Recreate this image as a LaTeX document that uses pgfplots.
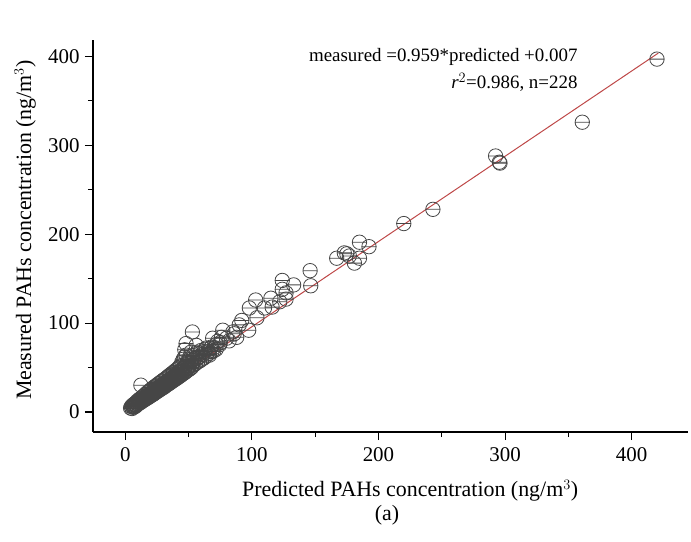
\documentclass[border=0pt]{standalone}
\usepackage{pgfplots}
\pgfplotsset{compat=1.18}
\usepackage{fontspec}
\setmainfont{Liberation Serif}
\definecolor{mk}{RGB}{70,70,70}
\definecolor{fit}{RGB}{190,72,72}
\pgfdeclareplotmark{ominus}{%
  \pgfpathcircle{\pgfpoint{0pt}{0pt}}{\pgfplotmarksize}%
  \pgfpathmoveto{\pgfpoint{-\pgfplotmarksize}{0pt}}%
  \pgfpathlineto{\pgfpoint{\pgfplotmarksize}{0pt}}%
  \pgfusepathqstroke}
\begin{document}
\begin{tikzpicture}
\useasboundingbox (-93bp,-110bp) rectangle (598bp,432bp);
\begin{axis}[
  at={(0,0)}, anchor=south west,
  scale only axis, width=595bp, height=392bp,
  xmin=-25.5, xmax=444.5, ymin=-22.5, ymax=418.5,
  axis x line=bottom, axis y line=left,
  axis line style={-, line width=1.1bp},
  xtick={0,100,200,300,400}, ytick={0,100,200,300,400},
  minor tick num=1,
  tick align=outside,
  major tick length=8bp, minor tick length=5bp,
  tick style={line width=1.1bp, black},
  /pgf/number format/assume math mode=true,
  ticklabel style={font=\fontsize{21}{24}\selectfont},
  xticklabel style={yshift=-4bp},
  yticklabel style={xshift=-2bp},
  xlabel={Predicted PAHs concentration (ng/m$^3$)},
  ylabel={Measured PAHs concentration (ng/m$^3$)},
  label style={font=\fontsize{22}{26}\selectfont},
  xlabel style={at={(axis description cs:0.533,-0.15)}, anchor=center},
  ylabel style={at={(axis description cs:-0.114,0.515)}, anchor=center, rotate=0},
  clip=false,
]
\addplot[only marks, mark=ominus, mark size=7.2bp, mark options={draw=mk, line width=0.8bp, fill=none}] coordinates {
(420,397) (361,326) (292.5,288) (295.5,281) (296,280) (243,228) (220,212)
(185,191) (192.5,186) (173,179) (167,173) (177,175.5) (185,173) (181,167.5) (175,178)
(146,159) (146.5,142) (124,148) (133,143) (124,138) (127,134) (127,127) (122,124)
(115,128) (116,118) (110,117) (103,126) (98,117) (104,106) (92,103) (90,98)
(97.5,92) (85,90) (77,92) (76,84) (69,83) (80,83) (88,84) (53,90) (48,77) (56,75)
(68,73) (64,72) (47,70) (59,66) (66.5,64) (72,76) (75,78) (62,68) (58,62) (82,80)
(86,88) (70,69)
(4.2,4.5) (4.8,6.1) (5.3,3.9) (5.6,7.2) (6.1,5.4) (6.4,8.3) (6.9,6.2) (7.2,9.1)
(7.5,5.8) (7.9,8.0) (8.3,10.4) (8.6,7.1) (9.0,9.6) (9.4,12.1) (9.8,8.7) (10.1,11.0)
(10.5,13.4) (10.9,9.8) (11.2,12.3) (11.6,14.8) (12.0,10.6) (12.3,30.2) (12.4,13.1)
(12.8,15.9) (13.1,11.9) (13.5,14.2) (13.9,17.3) (14.2,12.8) (14.6,15.6) (15.0,18.7)
(15.3,13.9) (15.7,16.4) (16.1,20.1) (16.4,14.8) (16.8,17.5) (17.2,21.6) (17.5,15.9)
(17.9,18.8) (18.3,23.0) (18.6,16.7) (19.0,19.9) (19.4,24.1) (19.7,17.8) (20.1,21.0)
(20.5,25.3) (20.8,18.9) (21.2,22.4) (21.6,26.8) (21.9,19.7) (22.3,23.1) (22.7,27.9)
(23.0,20.8) (23.4,24.6) (23.8,29.2) (24.1,22.0) (24.5,25.9) (24.9,30.1) (25.2,23.1)
(25.6,26.8) (26.0,31.5) (26.3,24.0) (26.7,28.1) (27.1,32.6) (27.4,25.2) (27.8,29.3)
(28.2,33.8) (28.5,26.1) (28.9,30.2) (29.3,35.0) (29.6,27.3) (30.0,31.4) (30.4,36.2)
(30.7,28.0) (31.1,32.6) (31.5,37.1) (31.8,29.4) (32.2,33.7) (32.6,38.5) (32.9,30.6)
(33.3,34.4) (33.7,39.8) (34.0,31.5) (34.4,35.9) (34.8,41.0) (35.1,32.4) (35.5,37.0)
(35.9,42.3) (36.2,33.8) (36.6,38.1) (37.0,43.5) (37.3,34.7) (37.7,39.2) (38.1,44.6)
(38.4,35.8) (38.8,40.5) (39.2,46.1) (39.5,36.9) (39.9,41.7) (40.3,47.2) (40.6,37.8)
(41.0,42.9) (41.4,48.6) (41.7,39.0) (42.1,44.0) (42.5,50.3) (42.8,40.1) (43.2,45.3)
(43.6,52.0) (43.9,41.2) (44.3,47.0) (44.7,56.1) (45.0,42.4) (45.4,48.5) (45.8,59.3)
(46.1,43.6) (46.5,50.1) (46.9,61.8) (47.2,44.5) (47.6,52.7) (48.0,64.0) (48.3,45.9)
(48.7,54.2) (49.1,49.0) (49.4,56.8) (49.8,47.3) (50.2,58.9) (50.5,51.0) (50.9,62.1)
(51.3,48.8) (51.6,55.0) (52.0,67.5) (52.4,50.2) (52.7,58.1) (53.1,52.6) (53.5,63.4)
(54.2,53.0) (55.0,60.2) (55.7,54.6) (56.4,66.0) (57.2,56.3) (58.0,61.8) (58.8,57.5)
(59.6,69.1) (60.5,59.4) (61.3,64.7) (62.2,60.8) (63.0,70.5) (64.1,63.2) (65.3,67.9)
(66.2,66.0) (67.4,71.8) (68.5,68.1) (70.1,72.5) (71.8,70.6) (73.0,79.5) (74.6,75.8)
(8.8,8.2) (11.4,11.3) (14.0,14.9) (16.6,16.0) (19.2,18.6) (21.4,20.7) (23.6,23.0)
(25.8,25.4) (28.0,27.7) (30.2,29.6) (32.4,32.0) (34.6,34.1) (36.8,36.3) (39.0,38.2)
(41.2,40.4) (10.6,10.8) (13.3,13.6) (15.5,15.2) (17.7,17.1) (20.3,20.0) (22.5,21.9)
(24.7,24.3) (27.0,26.2) (29.1,29.0) (31.3,30.9) (33.5,33.0) (35.7,35.2) (37.9,37.5)
(40.1,39.6) (42.3,42.0) (44.5,44.1) (46.7,46.4) (6.8,7.0) (5.9,6.3)
};
\addplot[fit, line width=1bp] coordinates {(4,3.843) (421,403.746)};
\node[anchor=east, font=\fontsize{19}{22}\selectfont] at (axis cs:360,399) {measured =0.959*predicted +0.007};
\node[anchor=east, font=\fontsize{19}{22}\selectfont] at (axis cs:360,371) {\textit{r}$^{2}$=0.986, n=228};
\node[font=\fontsize{22}{26}\selectfont] at (294bp,-83bp) {(a)};
\end{axis}
\end{tikzpicture}
\end{document}
